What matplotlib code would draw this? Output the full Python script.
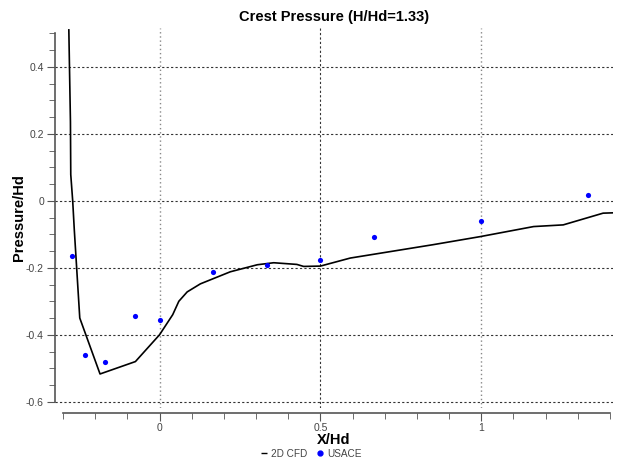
import numpy as np
import matplotlib.pyplot as plt
from matplotlib.lines import Line2D

# 2D CFD crest pressure profile
cfd_x = [-0.282, -0.280, -0.277, -0.276, -0.270, -0.265, -0.248, -0.185, -0.075,
         0.0, 0.041, 0.060, 0.086, 0.127, 0.220, 0.304, 0.355, 0.427, 0.448,
         0.50, 0.593, 0.851, 0.997, 1.163, 1.255, 1.379, 1.41]
cfd_y = [0.51, 0.40, 0.236, 0.078, 0.0, -0.087, -0.35, -0.517, -0.48,
         -0.40, -0.34, -0.30, -0.272, -0.248, -0.212, -0.191, -0.185, -0.19, -0.196,
         -0.195, -0.171, -0.131, -0.107, -0.077, -0.072, -0.037, -0.036]

# USACE measurements
usace_x = [-0.273, -0.233, -0.171, -0.077, 0.0, 0.167, 0.333, 0.5, 0.667, 1.0, 1.333]
usace_y = [-0.164, -0.459, -0.48, -0.343, -0.355, -0.212, -0.193, -0.176, -0.107, -0.059, 0.016]

plt.rcParams['font.family'] = ['Liberation Sans', 'DejaVu Sans']

fig = plt.figure(figsize=(6.18, 4.65), dpi=100)
ax = fig.add_axes([0.089, 0.123, 0.903, 0.817])

ax.plot(cfd_x, cfd_y, color='black', linewidth=1.2, zorder=3)
ax.scatter(usace_x, usace_y, color='#0000ff', s=14, zorder=4, linewidths=0)

ax.set_xlim(-0.325, 1.41)
ax.set_ylim(-0.618, 0.516)

ax.set_xticks([0, 0.5, 1])
ax.set_xticklabels(['0', '0.5', '1'])
ax.set_xticks(np.arange(-0.3, 1.401, 0.1), minor=True)
ax.set_yticks([-0.6, -0.4, -0.2, 0, 0.2, 0.4])
ax.set_yticklabels(['-0.6', '-0.4', '-0.2', '0', '0.2', '0.4'])
ax.set_yticks(np.arange(-0.6, 0.501, 0.05), minor=True)

for s in ['top', 'right']:
    ax.spines[s].set_visible(False)
ax.spines['left'].set_bounds(-0.6, 0.5)
ax.spines['bottom'].set_bounds(-0.3, 1.4)
ax.spines['bottom'].set_position(('outward', 4))
ax.spines['left'].set_color('#555555')
ax.spines['bottom'].set_color('#555555')
ax.spines['left'].set_linewidth(1.2)
ax.spines['bottom'].set_linewidth(1.2)

ax.tick_params(which='major', direction='out', length=6, color='#555555',
               labelsize=7.5, labelcolor='#444444', pad=2)
ax.tick_params(axis='x', which='major', pad=1)
ax.tick_params(which='minor', direction='out', length=4, color='#555555')

# grid
ax.yaxis.grid(True, which='major', linestyle=(0, (2, 2)), color='#333333', linewidth=0.8)
ax.xaxis.grid(True, which='major', linestyle=(0, (1, 2)), color='#888888', linewidth=1.0)
for gl, xv in zip(ax.get_xgridlines(), [0, 0.5, 1]):
    if xv == 0.5:
        gl.set_color('#333333')
        gl.set_linestyle((0, (2, 2)))
        gl.set_linewidth(0.8)
ax.set_axisbelow(True)

ax.set_title('Crest Pressure (H/Hd=1.33)', fontsize=10.5, fontweight='bold', pad=5)
ax.set_xlabel('X/Hd', fontsize=10.5, fontweight='bold', labelpad=0)
ax.set_ylabel('Pressure/Hd', fontsize=10.5, fontweight='bold', labelpad=0)

handles = [Line2D([], [], color='black', marker='_', linestyle='none', markersize=4),
           Line2D([], [], color='#0000ff', marker='o', linestyle='none', markersize=3.5)]
fig.legend(handles, ['2D CFD', 'USACE'], loc='center', bbox_to_anchor=(0.503, 0.024),
           ncol=2, frameon=False, fontsize=7.2, labelcolor='#444444',
           handletextpad=0.3, columnspacing=0.9, handlelength=0.8, borderpad=0)

fig.savefig('out.png', dpi=100)
